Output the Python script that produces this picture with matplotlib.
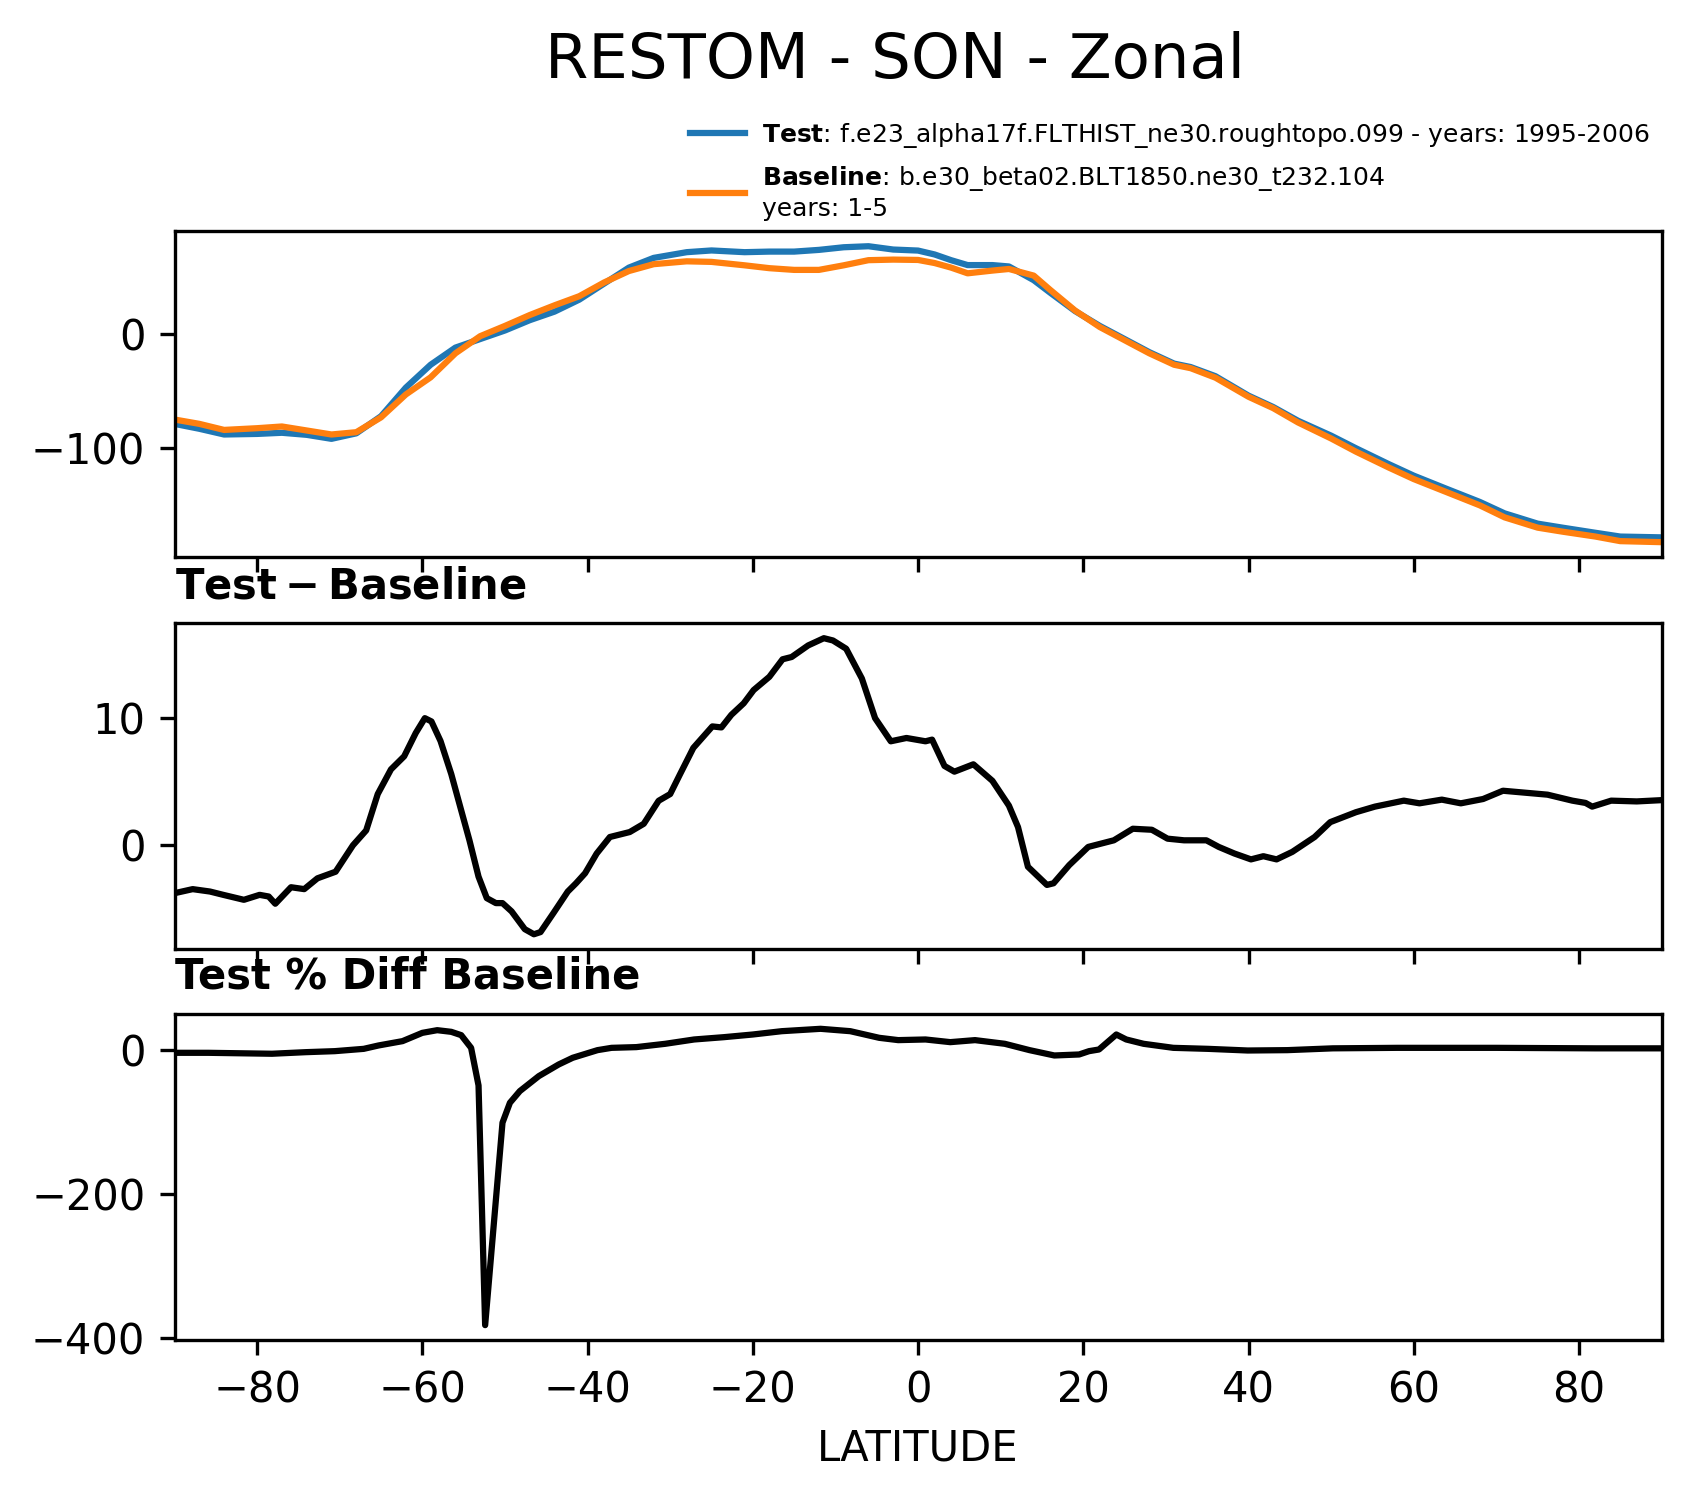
import matplotlib
matplotlib.use('Agg')
import matplotlib.pyplot as plt

# zonal means (W/m2)
lat_top = [-90, -87, -84, -80, -77, -74, -71, -68, -65, -62, -59, -56, -53, -50, -47, -44,
           -41, -38, -35, -32, -28, -25, -21, -18, -15, -12, -9, -6, -3, 0, 2, 4, 6, 9,
           11, 14, 16, 19, 22, 25, 28, 31, 33, 36, 40, 43, 46, 50, 53, 57, 60, 64, 68,
           71, 75, 78, 82, 85, 90]
test_vals = [-78.7, -83, -88, -87.5, -86.5, -88.3, -91.8, -87, -72, -47, -27, -12, -4.5, 3,
             12, 19.5, 30, 44, 58, 66.5, 71.5, 73, 71.5, 72, 72, 73.5, 75.8, 76.7, 73.8,
             72.9, 69.5, 64.5, 60.2, 60.2, 59, 47, 36, 20, 7, -4.5, -16, -26, -29, -37,
             -54, -64, -76, -89, -100, -114, -124, -135.6, -147, -157, -166, -169.5, -174,
             -177.3, -178]
base_vals = [-74.9, -78.7, -84, -82.5, -81, -84.5, -88, -86, -73, -53, -38, -17, -2, 7,
             16.5, 25, 33, 45, 55, 61, 63.5, 63, 60, 57.5, 56, 56, 60, 64.5, 65, 64.7, 62,
             58, 53, 55.4, 56.8, 51, 38.5, 20.5, 6, -5.5, -17, -27, -30, -38.3, -55, -65,
             -77.5, -91.5, -103, -117, -127, -138.5, -150, -160.5, -169.5, -173, -177.3,
             -181.3, -182.2]

lat_diff = [-90, -87.8, -85.7, -84.1, -81.6, -79.7, -78.6, -77.8, -75.9, -74.3, -72.7, -70.5,
            -68.4, -66.8, -65.4, -63.8, -62.2, -60.8, -59.7, -58.9, -57.8, -56.5, -55.4,
            -54.3, -53.2, -52.2, -51.1, -50.3, -49.2, -47.6, -46.5, -45.7, -44.1, -42.4,
            -41.4, -40.3, -38.9, -37.3, -34.9, -33.2, -31.4, -30, -28.8, -27.2, -24.9,
            -23.8, -22.6, -21.1, -19.9, -18, -16.4, -15.3, -13.3, -11.4, -10.3, -8.7, -6.8,
            -5.2, -3.3, -1.4, 0.9, 1.7, 3.2, 4.4, 6.7, 9, 11, 12.1, 13.3, 15.6, 16.4, 18.3,
            20.6, 23.7, 26, 28.3, 30.2, 32.2, 34.9, 36.4, 38.3, 40.3, 41.8, 43.4, 45.3, 48,
            49.9, 53, 55.3, 58.8, 60.7, 63.4, 65.7, 68.4, 70.8, 76.2, 79.2, 80.8, 81.6,
            83.9, 87, 90]
diff_vals = [-3.77, -3.45, -3.64, -3.9, -4.29, -3.9, -4.03, -4.6, -3.3, -3.45, -2.6, -2.08,
             0, 1.17, 4.03, 5.97, 7.0, 8.83, 10, 9.74, 8.2, 5.6, 2.99, 0.39, -2.47, -4.16,
             -4.55, -4.55, -5.2, -6.6, -7.0, -6.83, -5.3, -3.64, -2.99, -2.2, -0.65, 0.65,
             1.04, 1.69, 3.5, 4.03, 5.6, 7.66, 9.35, 9.27, 10.26, 11.17, 12.21, 13.25, 14.63,
             14.81, 15.72, 16.29, 16.11, 15.46, 13.12, 10, 8.18, 8.44, 8.18, 8.31, 6.24, 5.79,
             6.37, 5.07, 3.12, 1.43, -1.69, -3.12, -2.99, -1.56, -0.13, 0.39, 1.3, 1.22, 0.52,
             0.39, 0.39, -0.13, -0.65, -1.11, -0.86, -1.11, -0.52, 0.65, 1.82, 2.6, 3.04,
             3.51, 3.3, 3.59, 3.3, 3.64, 4.29, 3.98, 3.51, 3.33, 3.04, 3.51, 3.45, 3.55]

lat_pct = [-90, -85.9, -78.2, -74.1, -70.6, -67.1, -65.3, -62.4, -60, -58.2, -56.5, -55.3,
           -54.1, -53.2, -52.4, -50.3, -49.4, -48.2, -45.9, -43.5, -41.8, -38.8, -37.1,
           -34.1, -30.6, -27.1, -23.5, -20, -16.5, -11.8, -8.2, -4.7, -2.4, 0.9, 3.9, 6.9,
           10.5, 13.5, 16.5, 19.5, 20.7, 21.9, 24, 25.2, 27.3, 30.9, 35.1, 39.9, 44.7,
           50.2, 58, 70, 82, 90]
pct_vals = [-3.7, -3.7, -5, -2.8, -1.4, 1.8, 6.5, 12.5, 24, 27.7, 25.4, 20.8, 3.2, -49,
            -381.5, -100.7, -73, -56.8, -36, -19.9, -10.6, 0, 3.2, 4.2, 8.8, 14.8, 18, 21.7,
            26.3, 29.6, 26.3, 17.1, 13.9, 14.8, 11.1, 13.9, 8.8, 0, -7.4, -6, -1.4, 0.9,
            21.7, 14.8, 8.8, 3.2, 1.8, -0.5, 0, 2.5, 3.2, 3.2, 2.5, 2.5]

test_label = '$\\bf{Test}$: f.e23_alpha17f.FLTHIST_ne30.roughtopo.099 - years: 1995-2006'
base_label = '$\\bf{Baseline}$: b.e30_beta02.BLT1850.ne30_t232.104\nyears: 1-5'

fig = plt.figure(figsize=(1691 / 300, 1496 / 300), dpi=300)
ax1 = fig.add_axes([0.1032, 0.6277, 0.8794, 0.2176])
ax2 = fig.add_axes([0.1032, 0.3656, 0.8794, 0.2177])
ax3 = fig.add_axes([0.1032, 0.1043, 0.8794, 0.2179])

ax1.plot(lat_top, test_vals, color='#1f77b4', lw=1.5, label=test_label)
ax1.plot(lat_top, base_vals, color='#ff7f0e', lw=1.5, label=base_label)

ax2.plot(lat_diff, diff_vals, color='black', lw=1.5)
ax2.set_title('$\\bf{Test - Baseline}$', loc='left', fontsize=10)

ax3.plot(lat_pct, pct_vals, color='black', lw=1.5)
ax3.set_title('Test % Diff Baseline', loc='left', fontsize=10, fontweight='bold')
ax3.set_xlabel('LATITUDE', fontsize=10)

for ax in [ax1, ax2, ax3]:
    ax.set_xlim(-90, 90)
    ax.set_xticks([-80, -60, -40, -20, 0, 20, 40, 60, 80])
    ax.tick_params(labelsize=10)
for ax in [ax1, ax2]:
    ax.tick_params(labelbottom=False)

fig.legend(loc='upper left', bbox_to_anchor=(0.408, 0.919), frameon=False,
           fontsize=6, borderpad=0, borderaxespad=0, handletextpad=0.7,
           handlelength=2.2, labelspacing=0.55)

fig.text(0.529, 0.948, 'RESTOM - SON - Zonal', fontsize=15, ha='center', va='baseline')

fig.savefig('out.png', dpi=300)
